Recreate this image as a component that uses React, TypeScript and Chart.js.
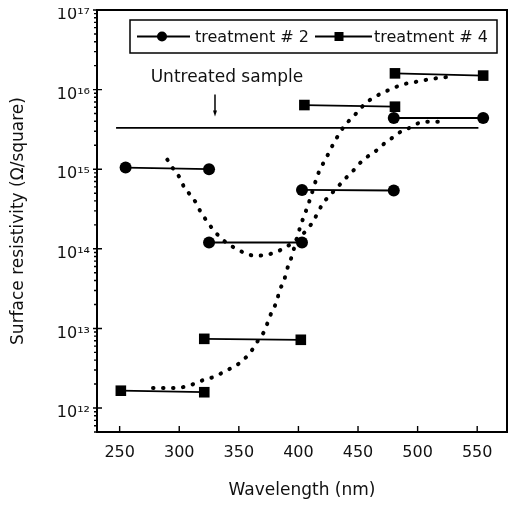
import { useEffect, useRef } from 'react';
import { Chart, registerables } from 'chart.js';

Chart.register(...registerables);

const FONT = "'DejaVu Sans', 'Liberation Sans', sans-serif";

// Treatment #2 (circles): pairs of measured points joined by horizontal segments
const t2X = [255, 325, 325, 403, 403, 480, 480, 555];
const t2Y = [1.05e15, 1.0e15, 1.2e14, 1.2e14, 5.5e14, 5.4e14, 4.4e15, 4.4e15];

// Treatment #4 (squares)
const t4X = [251, 321, 321, 402, 405, 481, 481, 555];
const t4Y = [1.65e12, 1.58e12, 7.4e12, 7.2e12, 6.4e15, 6.1e15, 1.6e16, 1.5e16];

// Untreated sample reference line
const untreatedX = [247, 551];
const untreatedY = [3.3e15, 3.3e15];

// Dotted trend curve, treatment #2
const t2CurveX = [290, 295, 300, 304, 309, 314, 318, 323, 328, 334, 341, 348, 356, 364, 373, 381, 388, 396, 402, 408, 413, 417, 421, 427, 433, 440, 446, 451, 458, 465, 472, 479, 486, 493, 501, 509, 518];
const t2CurveY = [1.32e15, 1.01e15, 8.0e14, 6.0e14, 4.8e14, 3.8e14, 2.9e14, 2.25e14, 1.78e14, 1.41e14, 1.15e14, 1.0e14, 8.7e13, 8.2e13, 8.4e13, 9.1e13, 1.02e14, 1.22e14, 1.45e14, 1.8e14, 2.3e14, 3.0e14, 3.8e14, 4.8e14, 6.0e14, 7.8e14, 9.6e14, 1.17e15, 1.44e15, 1.7e15, 2.1e15, 2.5e15, 2.97e15, 3.3e15, 3.8e15, 3.95e15, 3.95e15];

// Dotted trend curve, treatment #4
const t4CurveX = [278, 287, 295, 304, 312, 320, 329, 336, 344, 351, 357, 362, 367, 372, 375, 378, 382, 384, 388, 390, 393, 400, 403, 406, 409, 417, 421, 425, 429, 433, 438, 444, 450, 456, 463, 471, 479, 487, 495, 504, 513, 521, 529];
const t4CurveY = [1.78e12, 1.78e12, 1.78e12, 1.84e12, 2.0e12, 2.24e12, 2.46e12, 2.77e12, 3.2e12, 3.7e12, 4.5e12, 5.6e12, 7.4e12, 9.6e12, 1.29e13, 1.66e13, 2.23e13, 2.97e13, 3.98e13, 5.3e13, 6.9e13, 1.59e14, 2.2e14, 2.9e14, 3.9e14, 9.1e14, 1.2e15, 1.55e15, 2.04e15, 2.6e15, 3.4e15, 4.3e15, 5.3e15, 6.7e15, 7.9e15, 9.2e15, 1.03e16, 1.16e16, 1.22e16, 1.3e16, 1.37e16, 1.42e16, 1.46e16];

const xTicks = [250, 300, 350, 400, 450, 500, 550];
const yMin = 5e11;
const yMax = 1e17;
const yDecades = [11, 12, 13, 14, 15, 16];

const legendLabels = ['treatment # 2', 'treatment # 4'];
const untreatedLabel = 'Untreated sample';
const untreatedLabelX = 340;
const untreatedLabelY = 1.23e16;
const arrowX = 330;
const arrowFromY = 8.7e15;
const arrowToY = 4.6e15;

const SUP = '⁰¹²³⁴⁵⁶⁷⁸⁹';
const sup = (n: number) => String(n).split('').map((d) => SUP[Number(d)]).join('');
const isDecade = (v: number) => {
  const e = Math.log10(v);
  return Math.abs(e - Math.round(e)) < 1e-6;
};

function segments(xs: number[], ys: number[]) {
  const out: { x: number; y: number | null }[] = [];
  for (let i = 0; i < xs.length; i += 2) {
    if (i > 0) out.push({ x: xs[i], y: null });
    out.push({ x: xs[i], y: ys[i] }, { x: xs[i + 1], y: ys[i + 1] });
  }
  return out;
}

const pairs = (xs: number[], ys: number[]) => xs.map((v, i) => ({ x: v, y: ys[i] }));

const decor = {
  id: 'decor',
  afterDatasetsDraw(chart: any) {
    const { ctx, chartArea: a, scales } = chart;
    const x = scales.x;
    const y = scales.y;
    ctx.save();
    ctx.strokeStyle = '#000';
    ctx.fillStyle = '#000';

    // frame
    ctx.lineWidth = 2;
    ctx.strokeRect(a.left, a.top, a.right - a.left, a.bottom - a.top);

    // tick marks
    ctx.lineWidth = 1.4;
    ctx.beginPath();
    for (const t of x.ticks) {
      const px = x.getPixelForValue(t.value);
      ctx.moveTo(px, a.bottom);
      ctx.lineTo(px, a.bottom - 6);
    }
    for (const t of y.ticks) {
      const py = y.getPixelForValue(t.value);
      if (isDecade(t.value)) {
        ctx.moveTo(a.left - 4, py);
        ctx.lineTo(a.left + 5, py);
      } else {
        ctx.moveTo(a.left - 3, py);
        ctx.lineTo(a.left, py);
      }
    }
    ctx.stroke();

    // legend box
    const bx = a.left + 33;
    const by = a.top + 10;
    const bw = a.right - 10 - bx;
    const bh = 33;
    ctx.lineWidth = 1.5;
    ctx.strokeRect(bx, by, bw, bh);
    const cy = by + bh / 2;
    ctx.lineWidth = 1.8;
    ctx.beginPath();
    ctx.moveTo(bx + 7, cy);
    ctx.lineTo(bx + 60, cy);
    ctx.moveTo(bx + 185, cy);
    ctx.lineTo(bx + 242, cy);
    ctx.stroke();
    ctx.beginPath();
    ctx.arc(bx + 32, cy, 5, 0, Math.PI * 2);
    ctx.fill();
    ctx.fillRect(bx + 209 - 4.5, cy - 4.5, 9, 9);
    ctx.fillStyle = '#111';
    ctx.font = `16px ${FONT}`;
    ctx.textAlign = 'left';
    ctx.textBaseline = 'middle';
    ctx.fillText(legendLabels[0], bx + 65, cy + 1);
    ctx.fillText(legendLabels[1], bx + 244, cy + 1);

    // untreated annotation
    ctx.font = `17px ${FONT}`;
    ctx.textAlign = 'center';
    ctx.textBaseline = 'alphabetic';
    ctx.fillText(untreatedLabel, x.getPixelForValue(untreatedLabelX), y.getPixelForValue(untreatedLabelY));
    const ax = x.getPixelForValue(arrowX);
    const ay0 = y.getPixelForValue(arrowFromY);
    const ay1 = y.getPixelForValue(arrowToY);
    ctx.lineWidth = 1.5;
    ctx.beginPath();
    ctx.moveTo(ax, ay0);
    ctx.lineTo(ax, ay1 - 4);
    ctx.stroke();
    ctx.fillStyle = '#000';
    ctx.beginPath();
    ctx.moveTo(ax - 2, ay1 - 6);
    ctx.lineTo(ax + 2, ay1 - 6);
    ctx.lineTo(ax, ay1);
    ctx.closePath();
    ctx.fill();
    ctx.restore();
  },
};

export default function App() {
  const ref = useRef<HTMLCanvasElement | null>(null);

  useEffect(() => {
    if (!ref.current) return;
    const yTickValues: number[] = [];
    for (const e of yDecades) {
      for (let m = 1; m <= 9; m++) {
        const v = m * Math.pow(10, e);
        if (v >= yMin * 0.999 && v <= yMax * 1.001) yTickValues.push(v);
      }
    }
    yTickValues.push(yMax);

    const dotted = {
      borderColor: '#000',
      borderWidth: 4,
      borderDash: [0.5, 9.5],
      borderCapStyle: 'round',
      pointRadius: 0,
      cubicInterpolationMode: 'monotone',
      fill: false,
    };

    const chart = new Chart(ref.current, {
      type: 'line',
      data: {
        datasets: [
          {
            label: legendLabels[0],
            data: segments(t2X, t2Y),
            borderColor: '#000',
            backgroundColor: '#000',
            borderWidth: 1.8,
            pointStyle: 'circle',
            pointRadius: 6,
            pointBorderWidth: 0,
            spanGaps: false,
          },
          {
            label: legendLabels[1],
            data: segments(t4X, t4Y),
            borderColor: '#000',
            backgroundColor: '#000',
            borderWidth: 1.8,
            pointStyle: 'rect',
            pointRadius: 7.5,
            pointBorderWidth: 0,
            spanGaps: false,
          },
          {
            label: untreatedLabel,
            data: pairs(untreatedX, untreatedY),
            borderColor: '#000',
            borderWidth: 1.8,
            pointRadius: 0,
          },
          { label: 'trend 2', data: pairs(t2CurveX, t2CurveY), ...dotted } as any,
          { label: 'trend 4', data: pairs(t4CurveX, t4CurveY), ...dotted } as any,
        ],
      },
      options: {
        animation: false,
        responsive: false,
        devicePixelRatio: 1,
        layout: { autoPadding: false, padding: { top: 10, right: 9, left: 0, bottom: 0 } },
        plugins: { legend: { display: false }, tooltip: { enabled: false } },
        scales: {
          x: {
            type: 'linear',
            min: 231,
            max: 575,
            afterBuildTicks: (s: any) => {
              s.ticks = xTicks.map((v) => ({ value: v }));
            },
            afterFit: (s: any) => {
              s.height = 76;
              s.paddingLeft = 0;
              s.paddingRight = 0;
            },
            grid: { display: false, drawTicks: false },
            border: { display: false },
            ticks: {
              color: '#111',
              font: { family: FONT, size: 16 },
              padding: 11,
              maxRotation: 0,
              autoSkip: false,
            },
            title: {
              display: true,
              text: 'Wavelength (nm)',
              color: '#111',
              font: { family: FONT, size: 17 },
              padding: { top: 0, bottom: 7 },
            },
          },
          y: {
            type: 'logarithmic',
            min: yMin,
            max: yMax,
            afterBuildTicks: (s: any) => {
              s.ticks = yTickValues.map((v) => ({ value: v }));
            },
            afterFit: (s: any) => {
              s.width = 97;
              s.paddingTop = 0;
              s.paddingBottom = 0;
            },
            grid: { display: false, drawTicks: false },
            border: { display: false },
            ticks: {
              color: '#111',
              font: { family: FONT, size: 16 },
              padding: 7,
              labelOffset: 5,
              autoSkip: false,
              callback: (v: any) => {
                const n = Number(v);
                if (!isDecade(n)) return '';
                return '10' + sup(Math.round(Math.log10(n)));
              },
            },
            title: {
              display: true,
              text: 'Surface resistivity (Ω/square)',
              color: '#111',
              font: { family: FONT, size: 17 },
              padding: { top: 8, bottom: 0 },
            },
          },
        },
      } as any,
      plugins: [decor],
    });
    return () => chart.destroy();
  }, []);

  return (
    <div style={{ margin: -8, width: 516, height: 508 }}>
      <canvas ref={ref} width={516} height={508} style={{ display: 'block' }} />
    </div>
  );
}
